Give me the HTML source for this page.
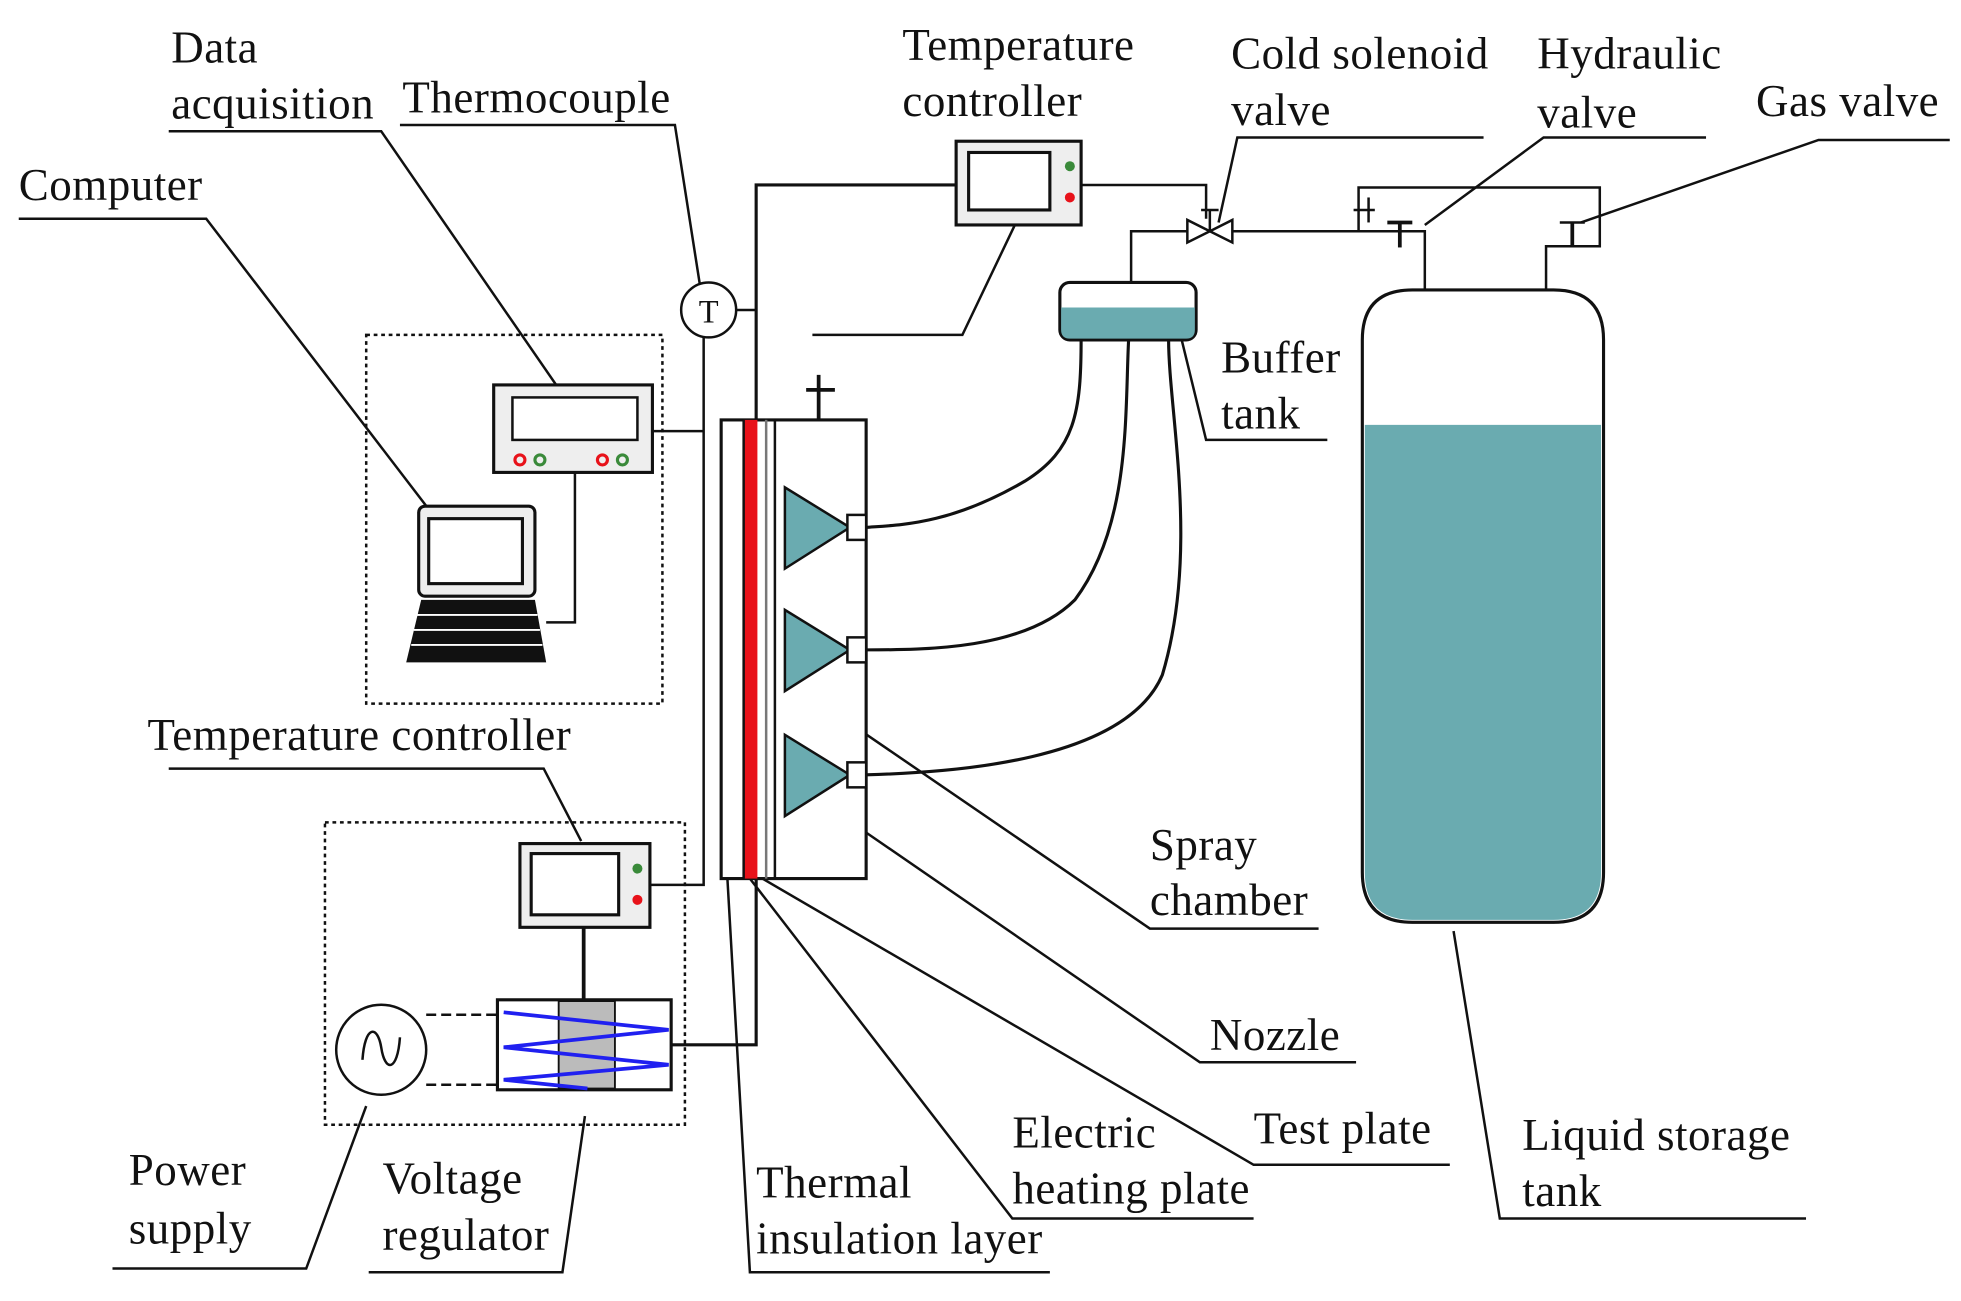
<!DOCTYPE html>
<html><head><meta charset="utf-8"><style>
html,body{margin:0;padding:0;background:#fff}
svg{display:block}
text{font-family:"Liberation Serif",serif;font-size:36px;letter-spacing:0.4px;fill:#111}
</style></head><body>
<svg width="1961" height="1301" viewBox="0 0 1569 1041" preserveAspectRatio="none" xmlns="http://www.w3.org/2000/svg">
<g fill="none" stroke="#111" stroke-width="2">
<polyline points="135,105 305,105 445,308"/>
<polyline points="320,100 540,100 560,228"/>
<polyline points="15,175 165,175 345,410"/>
<polyline points="650,268 770,268 812,180"/>
<polyline points="1187,110 990,110 975,178"/>
<polyline points="1365,110 1235,110 1140,180"/>
<polyline points="1560,112 1455,112 1265,178"/>
<polyline points="135,615 435,615 465,673"/>
<polyline points="90,1015 245,1015 293,885"/>
<polyline points="295,1018 450,1018 468,893"/>
<polyline points="840,1018 600,1018 582,703"/>
<polyline points="1003,975 810,975 600,703"/>
<polyline points="1160,932 1003,932 610,703"/>
<polyline points="1085,850 960,850 655,640"/>
<polyline points="1055,743 920,743 660,565"/>
<polyline points="1445,975 1200,975 1163,745"/>
<polyline points="1062,352 965,352 945,270"/>
<polyline points="765,148 605,148 605,836 537,836" stroke-width="2.5"/>
<polyline points="865,148 965,148 965,175"/>
<polyline points="905,226 905,185 950,185"/>
<polyline points="985,185 1140,185 1140,232"/>
<polyline points="1087,185 1087,150 1280,150 1280,197 1237,197 1237,232"/>
<line x1="589" y1="248" x2="605" y2="248"/>
<polyline points="563,270 563,708 520,708"/>
<line x1="522" y1="345" x2="563" y2="345"/>
<polyline points="460,378 460,498 437,498"/>
<line x1="467" y1="742" x2="467" y2="800" stroke-width="3"/>
<line x1="341" y1="812" x2="398" y2="812" stroke-dasharray="8,4"/>
<line x1="341" y1="868" x2="398" y2="868" stroke-dasharray="8,4"/>
<rect x="293" y="268" width="237" height="295" stroke-dasharray="3,3"/>
<rect x="260" y="658" width="288" height="242" stroke-dasharray="3,3"/>
</g>
<g stroke="#111" stroke-width="2" fill="#fff">
<polygon points="950,176 950,194 968,185"/><polygon points="986,176 986,194 968,185"/>
<line x1="968" y1="185" x2="968" y2="168"/><line x1="961" y1="168" x2="975" y2="168"/>
<line x1="1120" y1="178" x2="1120" y2="198" stroke-width="3"/><line x1="1110" y1="178" x2="1130" y2="178" stroke-width="3"/>
<line x1="1258" y1="178" x2="1258" y2="198" stroke-width="3"/><line x1="1248" y1="178" x2="1268" y2="178"/>
<line x1="1083" y1="168" x2="1100" y2="168"/><line x1="1095" y1="158" x2="1095" y2="178"/>
<line x1="655" y1="300" x2="655" y2="336" stroke-width="3"/><line x1="645" y1="312" x2="668" y2="312" stroke-width="3"/>
</g>
<path d="M1130,232 H1243 Q1283,232 1283,272 V698 Q1283,738 1243,738 H1130 Q1090,738 1090,698 V272 Q1090,232 1130,232 Z" fill="#fff" stroke="#111" stroke-width="2.5"/>
<path d="M1092,340 H1281 V698 Q1281,736 1243,736 H1130 Q1092,736 1092,698 Z" fill="#6aabb0"/>
<rect x="848" y="226" width="109" height="46" rx="8" fill="#fff" stroke="#111" stroke-width="2.5"/>
<path d="M849,246 H956 V264 Q956,271 949,271 H856 Q849,271 849,264 Z" fill="#6aabb0"/>
<g fill="none" stroke="#111" stroke-width="2.5">
<path d="M865,272 C865,330 860,360 820,385 C760,420 720,420 693,422"/>
<path d="M903,272 C900,330 905,420 860,480 C820,520 740,520 693,520"/>
<path d="M935,272 C935,330 960,440 930,540 C900,610 760,618 693,620"/>
</g>
<rect x="577" y="336" width="116" height="367" fill="#fff" stroke="#111" stroke-width="2.5"/>
<rect x="595" y="336" width="11" height="367" fill="#e8121a"/>
<line x1="595" y1="336" x2="595" y2="703" stroke="#111" stroke-width="2"/>
<line x1="613" y1="336" x2="613" y2="703" stroke="#777" stroke-width="2"/>
<line x1="620" y1="336" x2="620" y2="703" stroke="#111" stroke-width="2"/>
<g fill="#6aabb0" stroke="#111" stroke-width="2">
<polygon points="628,390 628,455 680,422"/><rect x="678" y="412" width="15" height="20" fill="#fff"/>
<polygon points="628,488 628,553 680,520"/><rect x="678" y="510" width="15" height="20" fill="#fff"/>
<polygon points="628,588 628,653 680,620"/><rect x="678" y="610" width="15" height="20" fill="#fff"/>
</g>
<circle cx="567" cy="248" r="22" fill="#fff" stroke="#111" stroke-width="2"/>
<text x="567" y="258" text-anchor="middle" style="font-size:26px;letter-spacing:0">T</text>
<rect x="765" y="113" width="100" height="67" fill="#eee" stroke="#111" stroke-width="2.5"/>
<rect x="775" y="122" width="65" height="46" fill="#fff" stroke="#111" stroke-width="2.5"/>
<circle cx="856" cy="133" r="4" fill="#3a8a3a"/><circle cx="856" cy="158" r="4" fill="#e8121a"/>
<rect x="395" y="308" width="127" height="70" fill="#eee" stroke="#111" stroke-width="2.5"/>
<rect x="410" y="318" width="100" height="34" fill="#fff" stroke="#111" stroke-width="2"/>
<g fill="none" stroke-width="2.5"><circle cx="416" cy="368" r="4" stroke="#e8121a"/><circle cx="432" cy="368" r="4" stroke="#3a8a3a"/><circle cx="482" cy="368" r="4" stroke="#e8121a"/><circle cx="498" cy="368" r="4" stroke="#3a8a3a"/></g>
<rect x="335" y="405" width="93" height="72" rx="5" fill="#eee" stroke="#111" stroke-width="2.5"/>
<rect x="343" y="415" width="75" height="52" fill="#fff" stroke="#111" stroke-width="2.5"/>
<polygon points="337,480 428,480 437,530 325,530" fill="#111"/>
<g stroke="#fff" stroke-width="1.5"><line x1="333" y1="492" x2="430" y2="492"/><line x1="331" y1="504" x2="432" y2="504"/><line x1="329" y1="516" x2="434" y2="516"/></g>
<rect x="416" y="675" width="104" height="67" fill="#eee" stroke="#111" stroke-width="2.5"/>
<rect x="425" y="683" width="70" height="49" fill="#fff" stroke="#111" stroke-width="2.5"/>
<circle cx="510" cy="695" r="4" fill="#3a8a3a"/><circle cx="510" cy="720" r="4" fill="#e8121a"/>
<rect x="398" y="800" width="139" height="72" fill="#fff" stroke="#111" stroke-width="2.5"/>
<rect x="447" y="801" width="45" height="70" fill="#bbb" stroke="#111" stroke-width="1.5"/>
<polyline points="403,810 535,824 403,838 535,852 403,864 470,871" fill="none" stroke="#2020f0" stroke-width="3"/>
<circle cx="305" cy="840" r="36" fill="#fff" stroke="#111" stroke-width="2"/>
<path d="M290,848 C292,820 302,820 305,838 C308,858 318,858 320,830" fill="none" stroke="#111" stroke-width="2"/>
<text x="137" y="50">Data</text><text x="137" y="95">acquisition</text>
<text x="322" y="90">Thermocouple</text>
<text x="15" y="160">Computer</text>
<text x="722" y="48">Temperature</text><text x="722" y="93">controller</text>
<text x="985" y="55">Cold solenoid</text><text x="985" y="100">valve</text>
<text x="1230" y="55">Hydraulic</text><text x="1230" y="102">valve</text>
<text x="1405" y="93">Gas valve</text>
<text x="977" y="298">Buffer</text><text x="977" y="343">tank</text>
<text x="118" y="600">Temperature controller</text>
<text x="920" y="688">Spray</text><text x="920" y="732">chamber</text>
<text x="968" y="840">Nozzle</text>
<text x="1003" y="915">Test plate</text>
<text x="810" y="918">Electric</text><text x="810" y="963">heating plate</text>
<text x="1218" y="920">Liquid storage</text><text x="1218" y="965">tank</text>
<text x="103" y="948">Power</text><text x="103" y="995">supply</text>
<text x="306" y="955">Voltage</text><text x="306" y="1000">regulator</text>
<text x="605" y="958">Thermal</text><text x="605" y="1003">insulation layer</text>
</svg>
</body></html>
